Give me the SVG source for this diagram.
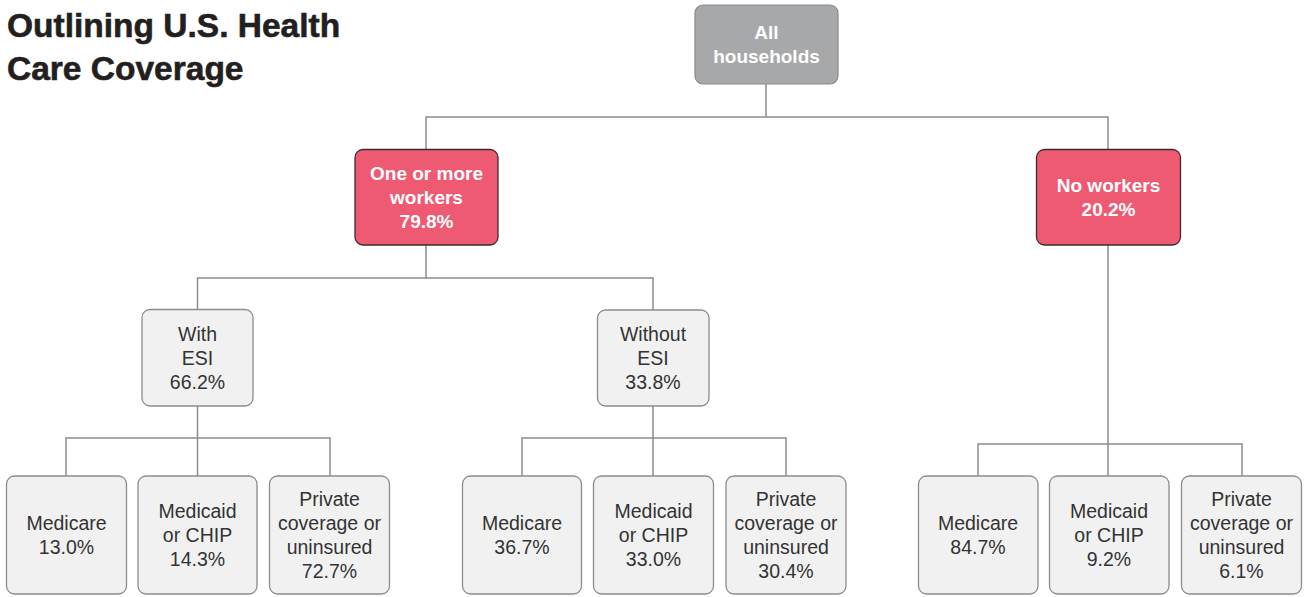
<svg xmlns="http://www.w3.org/2000/svg" width="1307" height="597" viewBox="0 0 1307 597">
<style>
.title{font-family:"Liberation Sans",Arial,sans-serif;font-weight:bold;font-size:33.5px;fill:#231f20;stroke:#231f20;stroke-width:0.6}
.conn{fill:none;stroke:#8c8c8c;stroke-width:1.5}
.gray rect{fill:#a7a8aa;stroke:#8a8a8c;stroke-width:1.2}
.red rect{fill:#ef5a73;stroke:#3b2b2e;stroke-width:1.3}
.light rect{fill:#f1f1f2;stroke:#8c8c8c;stroke-width:1.3}
.bt{font-family:"Liberation Sans",Arial,sans-serif;font-weight:bold;font-size:19px;fill:#ffffff;text-anchor:middle}
.lt{font-family:"Liberation Sans",Arial,sans-serif;font-size:19.5px;fill:#333333;text-anchor:middle}
</style>
<rect width="1307" height="597" fill="#ffffff"/>
<text class="title" x="7" y="37">Outlining U.S. Health</text>
<text class="title" x="7" y="80">Care Coverage</text>

<g id="connectors">
<path class="conn" d="M766 84 V117 M426 149 V117 H1108 V149"/>
<path class="conn" d="M426 245 V278 M197.5 309 V278 H653 V310"/>
<path class="conn" d="M197.5 406 V476 M66 476 V438 H330 V476"/>
<path class="conn" d="M653 406 V476 M522 476 V438 H786 V476"/>
<path class="conn" d="M1108 245 V476 M978 476 V444 H1242 V476"/>
</g>

<g id="all-households" class="gray">
<rect x="695" y="5" width="143" height="79" rx="8"/>
<text class="bt" x="766.5" y="39">All</text>
<text class="bt" x="766.5" y="63">households</text>
</g>

<g id="one-or-more-workers" class="red">
<rect x="355" y="149.5" width="143" height="95.5" rx="8"/>
<text class="bt" x="426.5" y="180">One or more</text>
<text class="bt" x="426.5" y="204">workers</text>
<text class="bt" x="426.5" y="228">79.8%</text>
</g>

<g id="no-workers" class="red">
<rect x="1036.5" y="149.5" width="144" height="95.5" rx="8"/>
<text class="bt" x="1108.5" y="192">No workers</text>
<text class="bt" x="1108.5" y="216">20.2%</text>
</g>

<g id="with-esi" class="light">
<rect x="142" y="309.5" width="111" height="96.5" rx="8"/>
<text class="lt" x="197.5" y="341">With</text>
<text class="lt" x="197.5" y="365">ESI</text>
<text class="lt" x="197.5" y="389">66.2%</text>
</g>

<g id="without-esi" class="light">
<rect x="597.5" y="310" width="111.5" height="96" rx="8"/>
<text class="lt" x="653" y="341">Without</text>
<text class="lt" x="653" y="365">ESI</text>
<text class="lt" x="653" y="389">33.8%</text>
</g>

<g id="with-medicare" class="light">
<rect x="6.5" y="476" width="120" height="118" rx="8"/>
<text class="lt" x="66.5" y="530">Medicare</text>
<text class="lt" x="66.5" y="554">13.0%</text>
</g>
<g id="with-medicaid" class="light">
<rect x="138" y="476" width="119" height="118" rx="8"/>
<text class="lt" x="197.5" y="518">Medicaid</text>
<text class="lt" x="197.5" y="542">or CHIP</text>
<text class="lt" x="197.5" y="566">14.3%</text>
</g>
<g id="with-private" class="light">
<rect x="269.5" y="476" width="120" height="118" rx="8"/>
<text class="lt" x="329.5" y="506">Private</text>
<text class="lt" x="329.5" y="530">coverage or</text>
<text class="lt" x="329.5" y="554">uninsured</text>
<text class="lt" x="329.5" y="578">72.7%</text>
</g>

<g id="without-medicare" class="light">
<rect x="462.5" y="476" width="119" height="118" rx="8"/>
<text class="lt" x="522" y="530">Medicare</text>
<text class="lt" x="522" y="554">36.7%</text>
</g>
<g id="without-medicaid" class="light">
<rect x="593.5" y="476" width="120" height="118" rx="8"/>
<text class="lt" x="653.5" y="518">Medicaid</text>
<text class="lt" x="653.5" y="542">or CHIP</text>
<text class="lt" x="653.5" y="566">33.0%</text>
</g>
<g id="without-private" class="light">
<rect x="726" y="476" width="120" height="118" rx="8"/>
<text class="lt" x="786" y="506">Private</text>
<text class="lt" x="786" y="530">coverage or</text>
<text class="lt" x="786" y="554">uninsured</text>
<text class="lt" x="786" y="578">30.4%</text>
</g>

<g id="noworkers-medicare" class="light">
<rect x="918.5" y="476" width="119.5" height="118" rx="8"/>
<text class="lt" x="978" y="530">Medicare</text>
<text class="lt" x="978" y="554">84.7%</text>
</g>
<g id="noworkers-medicaid" class="light">
<rect x="1049.5" y="476" width="119.5" height="118" rx="8"/>
<text class="lt" x="1109" y="518">Medicaid</text>
<text class="lt" x="1109" y="542">or CHIP</text>
<text class="lt" x="1109" y="566">9.2%</text>
</g>
<g id="noworkers-private" class="light">
<rect x="1181.5" y="476" width="120" height="118" rx="8"/>
<text class="lt" x="1241.5" y="506">Private</text>
<text class="lt" x="1241.5" y="530">coverage or</text>
<text class="lt" x="1241.5" y="554">uninsured</text>
<text class="lt" x="1241.5" y="578">6.1%</text>
</g>
</svg>
